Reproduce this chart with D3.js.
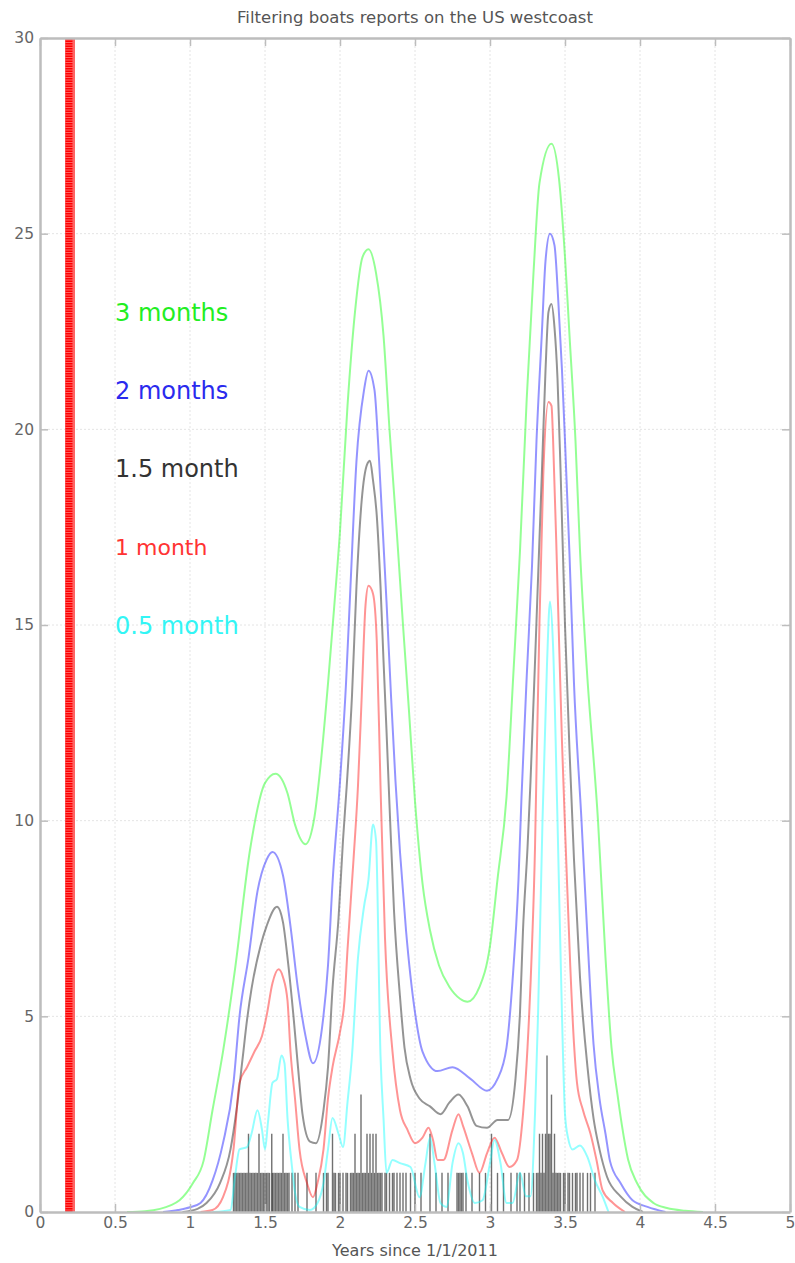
<!DOCTYPE html>
<html>
<head>
<meta charset="utf-8">
<script src="https://cdn.jsdelivr.net/npm/d3@7/dist/d3.min.js"></script>
<style>
body { margin: 0; background: #fff; }
text { font-family: "DejaVu Sans", sans-serif; }
</style>
</head>
<body>
<svg id="chart" width="795" height="1263"></svg>
<script>
// ---- data (years since 1/1/2011, boat reports) ----
const titleText = 'Filtering boats reports on the US westcoast';
const xLabelText = 'Years since 1/1/2011';
const xTicks = [0, 0.5, 1, 1.5, 2, 2.5, 3, 3.5, 4, 4.5, 5];
const yTicks = [0, 5, 10, 15, 20, 25, 30];
const markerX = [0.2];

const legendLabels = ['3 months', '2 months', '1.5 month', '1 month', '0.5 month'];

// raw reports: spike positions and counts
const spikeX = [1.29, 1.30, 1.31, 1.32, 1.33, 1.34, 1.35, 1.36, 1.37, 1.38, 1.39, 1.40, 1.41, 1.42, 1.43, 1.44, 1.45, 1.46, 1.47, 1.48, 1.49, 1.50, 1.51, 1.52, 1.53, 1.545, 1.55, 1.56, 1.57, 1.58, 1.59, 1.60, 1.61, 1.62, 1.63, 1.64, 1.65, 1.66, 1.68, 1.70, 1.72, 1.78, 1.84, 1.89, 1.91, 1.92, 1.95, 1.96, 1.97, 1.99, 2.00, 2.02, 2.04, 2.05, 2.07, 2.08, 2.09, 2.10, 2.11, 2.12, 2.13, 2.14, 2.15, 2.16, 2.17, 2.18, 2.19, 2.20, 2.21, 2.22, 2.23, 2.24, 2.25, 2.26, 2.27, 2.28, 2.30, 2.31, 2.33, 2.35, 2.36, 2.38, 2.40, 2.42, 2.44, 2.47, 2.50, 2.54, 2.60, 2.64, 2.68, 2.72, 2.78, 2.79, 2.80, 2.81, 2.82, 2.84, 2.88, 2.93, 2.97, 3.01, 3.05, 3.09, 3.14, 3.18, 3.20, 3.23, 3.26, 3.29, 3.31, 3.32, 3.33, 3.34, 3.35, 3.36, 3.37, 3.38, 3.39, 3.40, 3.41, 3.42, 3.43, 3.44, 3.45, 3.46, 3.47, 3.49, 3.50, 3.52, 3.53, 3.55, 3.57, 3.58, 3.60, 3.62, 3.65, 3.67, 3.70];
const spikeN = [1, 1, 1, 1, 1, 1, 1, 1, 1, 1, 2, 1, 1, 1, 1, 1, 1, 2, 1, 1, 1, 1, 1, 1, 1, 2, 1, 1, 1, 1, 1, 1, 1, 2, 1, 1, 1, 1, 1, 1, 1, 1, 1, 1, 1, 1, 2, 1, 1, 1, 1, 1, 1, 1, 1, 1, 1, 2, 1, 1, 1, 3, 1, 1, 1, 2, 1, 2, 1, 2, 1, 2, 1, 1, 1, 1, 1, 1, 1, 1, 1, 1, 1, 1, 1, 1, 1, 1, 2, 1, 1, 1, 1, 1, 1, 1, 1, 1, 1, 1, 1, 2, 1, 1, 1, 1, 1, 1, 1, 1, 1, 1, 2, 1, 2, 1, 2, 4, 2, 2, 3, 1, 2, 1, 1, 1, 1, 1, 1, 1, 1, 1, 1, 1, 1, 1, 1, 1, 1];

// filtered curves [year, value]
const months3 = [[0.58,0],[0.7,0.02],[0.8,0.08],[0.87,0.17],[0.93,0.3],[1.02,0.74],[1.09,1.3],[1.15,2.6],[1.22,4.1],[1.3,6.2],[1.4,9.25],[1.5,10.96],[1.57,11.2],[1.65,10.7],[1.7,9.9],[1.77,9.4],[1.83,10.1],[1.87,11.4],[1.92,13.5],[1.96,15.4],[2.0,17.4],[2.05,20.6],[2.1,23.0],[2.15,24.4],[2.19,24.6],[2.24,24.0],[2.29,22.4],[2.33,20.0],[2.38,17.3],[2.42,15.0],[2.46,12.8],[2.5,10.5],[2.55,8.4],[2.6,7.2],[2.66,6.3],[2.73,5.75],[2.8,5.45],[2.85,5.37],[2.93,5.75],[3.0,6.8],[3.05,8.5],[3.11,10.6],[3.155,13.7],[3.2,16.9],[3.245,20.8],[3.29,24.0],[3.33,26.3],[3.41,27.3],[3.46,26.4],[3.5,24.4],[3.53,22.4],[3.57,19.7],[3.6,16.9],[3.645,13.9],[3.72,10.0],[3.77,6.5],[3.81,4.2],[3.85,3.0],[3.88,2.2],[3.92,1.35],[3.98,0.74],[4.09,0.23],[4.18,0.1],[4.3,0.03],[4.42,0]];
const months2 = [[0.82,0],[0.92,0.05],[1.0,0.12],[1.07,0.23],[1.15,0.8],[1.22,1.76],[1.29,3.3],[1.33,5.0],[1.39,6.5],[1.45,8.2],[1.51,9.0],[1.55,9.2],[1.62,8.6],[1.67,7.3],[1.72,5.7],[1.77,4.5],[1.82,3.8],[1.88,4.7],[1.92,6.3],[1.95,8.4],[2.0,11.0],[2.04,13.5],[2.07,16.0],[2.11,19.2],[2.16,21.0],[2.19,21.5],[2.23,21.0],[2.255,19.6],[2.28,17.8],[2.31,15.6],[2.34,13.2],[2.37,11.0],[2.4,9.2],[2.44,7.2],[2.5,5.1],[2.55,4.1],[2.65,3.6],[2.75,3.7],[2.87,3.4],[2.98,3.1],[3.05,3.4],[3.11,4.2],[3.15,5.9],[3.19,8.5],[3.21,10.6],[3.245,13.7],[3.28,16.5],[3.31,19.7],[3.345,22.4],[3.37,24.3],[3.4,25.0],[3.43,24.7],[3.455,23.3],[3.48,21.5],[3.5,19.7],[3.53,16.8],[3.56,13.5],[3.61,10.0],[3.65,7.0],[3.69,4.3],[3.73,2.9],[3.77,2.0],[3.8,1.3],[3.87,0.74],[3.95,0.3],[4.05,0.13],[4.17,0]];
const months15 = [[0.95,0],[1.05,0.08],[1.11,0.23],[1.2,0.74],[1.27,1.6],[1.31,2.6],[1.35,3.9],[1.38,4.9],[1.41,5.7],[1.47,6.8],[1.51,7.3],[1.58,7.8],[1.62,7.4],[1.65,6.5],[1.69,5.0],[1.72,3.7],[1.75,2.5],[1.8,1.8],[1.84,1.76],[1.89,2.6],[1.92,3.7],[1.95,5.7],[1.99,7.5],[2.02,9.5],[2.045,10.9],[2.08,13.2],[2.11,16.0],[2.145,18.2],[2.18,19.1],[2.2,19.2],[2.22,18.7],[2.245,17.8],[2.27,16.0],[2.29,14.1],[2.31,12.3],[2.33,10.4],[2.36,7.7],[2.4,5.5],[2.43,4.2],[2.47,3.4],[2.53,2.9],[2.6,2.7],[2.67,2.5],[2.73,2.8],[2.79,3.0],[2.85,2.7],[2.91,2.2],[2.98,2.15],[3.05,2.35],[3.12,2.35],[3.17,3.4],[3.2,5.1],[3.22,7.2],[3.25,9.3],[3.27,11.0],[3.31,15.1],[3.345,18.8],[3.37,21.5],[3.39,23.0],[3.41,23.2],[3.43,22.6],[3.45,21.3],[3.47,19.0],[3.5,15.0],[3.53,11.8],[3.56,9.0],[3.6,6.0],[3.65,3.7],[3.69,2.4],[3.73,1.6],[3.78,0.9],[3.87,0.4],[3.95,0.13],[4.02,0]];
const months1 = [[1.07,0],[1.15,0.05],[1.22,0.38],[1.29,1.6],[1.33,3.3],[1.38,3.7],[1.43,4.1],[1.48,4.5],[1.51,5.0],[1.55,5.85],[1.59,6.2],[1.62,6.0],[1.65,5.4],[1.67,4.1],[1.7,2.9],[1.73,1.6],[1.78,0.74],[1.82,0.38],[1.85,0.74],[1.89,1.6],[1.92,2.9],[1.95,3.7],[2.0,4.6],[2.03,5.4],[2.05,6.7],[2.09,9.0],[2.12,10.9],[2.145,13.2],[2.17,15.5],[2.19,16.0],[2.22,15.8],[2.245,14.6],[2.27,10.9],[2.3,7.0],[2.35,4.1],[2.4,2.6],[2.45,2.1],[2.5,1.76],[2.55,1.9],[2.59,2.15],[2.62,1.84],[2.65,1.33],[2.69,1.33],[2.75,2.1],[2.79,2.5],[2.82,2.2],[2.88,1.5],[2.93,1.0],[2.98,1.5],[3.03,1.9],[3.08,1.5],[3.13,1.15],[3.18,1.33],[3.22,2.5],[3.25,4.2],[3.28,6.8],[3.3,9.3],[3.31,11.3],[3.33,15.1],[3.355,18.8],[3.39,20.7],[3.41,20.6],[3.42,19.8],[3.45,16.0],[3.48,12.0],[3.51,8.8],[3.535,6.3],[3.56,4.3],[3.58,3.3],[3.62,2.6],[3.67,2.0],[3.71,1.33],[3.75,0.56],[3.82,0.23],[3.9,0]];
const months05 = [[1.15,0],[1.22,0.02],[1.27,0.05],[1.3,0.9],[1.33,1.6],[1.38,1.66],[1.41,2.0],[1.45,2.6],[1.48,2.1],[1.5,1.6],[1.52,2.3],[1.55,3.3],[1.58,3.4],[1.61,4.0],[1.63,3.8],[1.65,2.4],[1.68,1.15],[1.7,0.5],[1.73,0.13],[1.8,0.05],[1.85,0.23],[1.89,0.74],[1.92,1.6],[1.95,2.4],[1.99,2.0],[2.02,1.66],[2.05,2.8],[2.08,4.0],[2.12,6.5],[2.16,7.8],[2.19,8.5],[2.22,9.9],[2.24,9.5],[2.27,4.0],[2.29,2.4],[2.31,1.0],[2.35,1.33],[2.4,1.25],[2.47,1.15],[2.53,0.38],[2.57,1.25],[2.6,1.9],[2.63,1.25],[2.67,0.23],[2.71,0.13],[2.75,1.25],[2.79,1.76],[2.82,1.5],[2.85,0.8],[2.9,0.23],[2.95,0.3],[3.0,1.25],[3.03,1.84],[3.07,1.25],[3.11,0.23],[3.15,0.23],[3.2,1.0],[3.24,0.4],[3.27,0.4],[3.3,2.5],[3.32,5.0],[3.35,10.0],[3.38,14.0],[3.4,15.6],[3.42,14.5],[3.45,10.0],[3.48,5.0],[3.5,2.5],[3.52,1.9],[3.55,1.6],[3.6,1.7],[3.65,1.4],[3.7,0.8],[3.75,0.4],[3.79,0]];

const series = [months3, months2, months15, months1, months05];
const lineColors = ['#00ff00', '#0000ff', '#000000', '#ff0000', '#00ffff'];
const textColors = ['#22ee22', '#2a2aee', '#333333', '#ff3333', '#33f5f5'];

// ---- chart ----
const svg = d3.select('#chart');
const plotL = 40, plotR = 790, plotT = 38, plotB = 1212;

const x = d3.scaleLinear().domain([0, 5]).range([plotL, plotR]);
const y = d3.scaleLinear().domain([0, 30]).range([plotB, plotT]);

// dotted grid
svg.append('g').selectAll('line')
    .data(xTicks.slice(1, -1))
    .join('line')
    .attr('x1', d => x(d)).attr('x2', d => x(d))
    .attr('y1', plotT).attr('y2', plotB)
    .attr('stroke', '#e4e4e4').attr('stroke-dasharray', '2,2');
svg.append('g').selectAll('line')
    .data(yTicks.slice(1, -1))
    .join('line')
    .attr('x1', plotL).attr('x2', plotR)
    .attr('y1', d => y(d)).attr('y2', d => y(d))
    .attr('stroke', '#e4e4e4').attr('stroke-dasharray', '2,2');

// raw reports
svg.append('g').selectAll('line')
    .data(d3.zip(spikeX, spikeN))
    .join('line')
    .attr('x1', d => x(d[0])).attr('x2', d => x(d[0]))
    .attr('y1', y(0)).attr('y2', d => y(d[1]))
    .attr('stroke', '#111').attr('stroke-width', 1.4).attr('stroke-opacity', 0.6);

// filtered curves
const line = d3.line()
    .x(d => x(d[0]))
    .y(d => y(d[1]))
    .curve(d3.curveMonotoneX);

svg.append('g').selectAll('path')
    .data(series)
    .join('path')
    .attr('d', line)
    .attr('fill', 'none')
    .attr('stroke', (d, i) => lineColors[i])
    .attr('stroke-width', 2)
    .attr('stroke-opacity', 0.42);

// red marker line
svg.append('g').selectAll('line')
    .data(markerX)
    .join('line')
    .attr('x1', d => x(d)).attr('x2', d => x(d))
    .attr('y1', y(0)).attr('y2', y(30))
    .attr('stroke', '#ff6464').attr('stroke-width', 10);
svg.append('g').selectAll('line')
    .data(markerX)
    .join('line')
    .attr('x1', d => x(d) - 1).attr('x2', d => x(d) - 1)
    .attr('y1', y(0)).attr('y2', y(30))
    .attr('stroke', '#ff0000').attr('stroke-width', 7)
    .attr('stroke-dasharray', '1.5,1');

// axes (box with inward ticks)
function styleAxis(g) {
    g.selectAll('path.domain').attr('stroke', '#bdbdbd').attr('stroke-width', 2.5);
    g.selectAll('.tick line').attr('stroke', '#bdbdbd').attr('stroke-width', 1.5);
    g.selectAll('.tick text').attr('fill', '#666').attr('font-size', 15.5)
        .attr('font-family', '"DejaVu Sans", sans-serif');
}
svg.append('g').attr('transform', `translate(0,${plotB})`)
    .call(d3.axisBottom(x).tickValues(xTicks).tickFormat(d3.format('')).tickSizeInner(-8).tickSizeOuter(0).tickPadding(5))
    .call(styleAxis);
svg.append('g').attr('transform', `translate(0,${plotT})`)
    .call(d3.axisTop(x).tickValues(xTicks).tickFormat('').tickSizeInner(-8).tickSizeOuter(0))
    .call(styleAxis);
svg.append('g').attr('transform', `translate(${plotL},0)`)
    .call(d3.axisLeft(y).tickValues(yTicks).tickFormat(d3.format('')).tickSizeInner(-8).tickSizeOuter(0).tickPadding(6))
    .call(styleAxis);
svg.append('g').attr('transform', `translate(${plotR},0)`)
    .call(d3.axisRight(y).tickValues(yTicks).tickFormat('').tickSizeInner(-8).tickSizeOuter(0))
    .call(styleAxis);

// labels
svg.append('text')
    .attr('x', (plotL + plotR) / 2).attr('y', 23)
    .attr('text-anchor', 'middle')
    .attr('font-size', 16.5).attr('fill', '#555')
    .text(titleText);
svg.append('text')
    .attr('x', (plotL + plotR) / 2).attr('y', 1256)
    .attr('text-anchor', 'middle')
    .attr('font-size', 16).attr('fill', '#555')
    .text(xLabelText);

svg.append('g').selectAll('text')
    .data(legendLabels)
    .join('text')
    .attr('x', x(0.5))
    .attr('y', (d, i) => y(23 - 2 * i))
    .attr('dy', '0.36em')
    .attr('font-size', (d, i) => i === 3 ? 22 : 24)
    .attr('fill', (d, i) => textColors[i])
    .text(d => d);
</script>
</body>
</html>
